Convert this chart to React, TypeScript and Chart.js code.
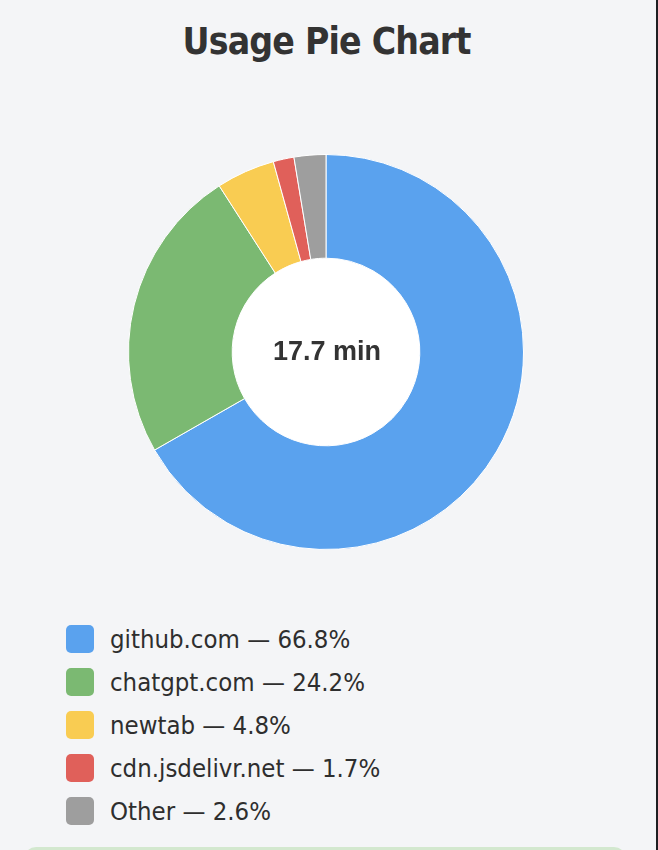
import React, { useEffect, useRef } from "react";
import { Chart, registerables } from "chart.js";

Chart.register(...registerables);

const siteLabels = ["github.com", "chatgpt.com", "newtab", "cdn.jsdelivr.net", "Other"];
const sharePercent = [66.8, 24.2, 4.8, 1.7, 2.6];
const sliceColors = ["#5AA2EE", "#7BB972", "#F9CC52", "#E0605A", "#9E9E9E"];
const totalLabel = "17.7 min";
const chartTitle = "Usage Pie Chart";

const centerPlugin = {
  id: "centerText",
  beforeDatasetsDraw(chart: any) {
    const meta = chart.getDatasetMeta(0);
    const arc = meta.data[0];
    if (!arc) return;
    const { x, y, innerRadius } = arc.getProps(["x", "y", "innerRadius"], true);
    const ctx = chart.ctx;
    ctx.save();
    ctx.beginPath();
    ctx.arc(x, y, innerRadius, 0, Math.PI * 2);
    ctx.fillStyle = "#ffffff";
    ctx.fill();
    ctx.restore();
  },
  afterDatasetsDraw(chart: any) {
    const meta = chart.getDatasetMeta(0);
    const arc = meta.data[0];
    if (!arc) return;
    const { x, y } = arc.getProps(["x", "y"], true);
    const ctx = chart.ctx;
    ctx.save();
    ctx.font = "bold 27px 'Liberation Sans', Arial, sans-serif";
    ctx.fillStyle = "#333333";
    ctx.textAlign = "center";
    ctx.textBaseline = "middle";
    ctx.fillText(totalLabel, x + 1, y + 1);
    ctx.restore();
  },
};

export default function App() {
  const canvasRef = useRef<HTMLCanvasElement | null>(null);

  useEffect(() => {
    if (!canvasRef.current) return;
    const chart = new Chart(canvasRef.current, {
      type: "doughnut",
      data: {
        labels: siteLabels,
        datasets: [
          {
            data: sharePercent,
            backgroundColor: sliceColors,
            borderColor: "#ffffff",
            borderWidth: 1,
            hoverOffset: 0,
            offset: 0,
          },
        ],
      },
      options: {
        responsive: false,
        animation: false,
        events: [],
        cutout: "47.5%",
        layout: { padding: 0 },
        plugins: {
          legend: { display: false },
          tooltip: { enabled: false },
          title: { display: false },
        },
      },
      plugins: [centerPlugin],
    });
    return () => chart.destroy();
  }, []);

  const textFont = "'DejaVu Sans', Verdana, sans-serif";

  return (
    <div
      style={{
        position: "fixed",
        inset: 0,
        background: "#F4F5F7",
        overflow: "hidden",
        fontFamily: textFont,
      }}
    >
      <div
        style={{
          position: "absolute",
          left: 0,
          width: 653,
          top: 17,
          textAlign: "center",
          fontWeight: "bold",
          fontSize: 37,
          fontStretch: "condensed",
          letterSpacing: -0.8,
          color: "#333333",
          lineHeight: "50px",
        }}
      >
        {chartTitle}
      </div>
      <canvas
        ref={canvasRef}
        width={396}
        height={396}
        style={{ position: "absolute", left: 128, top: 154, width: 396, height: 396 }}
      />
      <div style={{ position: "absolute", left: 66, top: 617 }}>
        {siteLabels.map((label, i) => (
          <div
            key={label}
            style={{ display: "flex", alignItems: "center", height: 43 }}
          >
            <span
              style={{
                display: "inline-block",
                width: 28,
                height: 28,
                borderRadius: 5,
                background: sliceColors[i],
                marginRight: 16,
              }}
            />
            <span
              style={{
                fontSize: 25.5,
                fontStretch: "condensed",
                color: "#2E2E2E",
                whiteSpace: "nowrap",
              }}
            >
              {label} — {sharePercent[i].toFixed(1)}%
            </span>
          </div>
        ))}
      </div>
      <div
        style={{
          position: "absolute",
          left: 24,
          width: 602,
          top: 847,
          height: 40,
          background: "#D3E8CF",
          borderRadius: 12,
        }}
      />
      <div
        style={{
          position: "absolute",
          right: 0,
          top: 0,
          bottom: 0,
          width: 2,
          background: "#1E1F22",
        }}
      />
    </div>
  );
}
